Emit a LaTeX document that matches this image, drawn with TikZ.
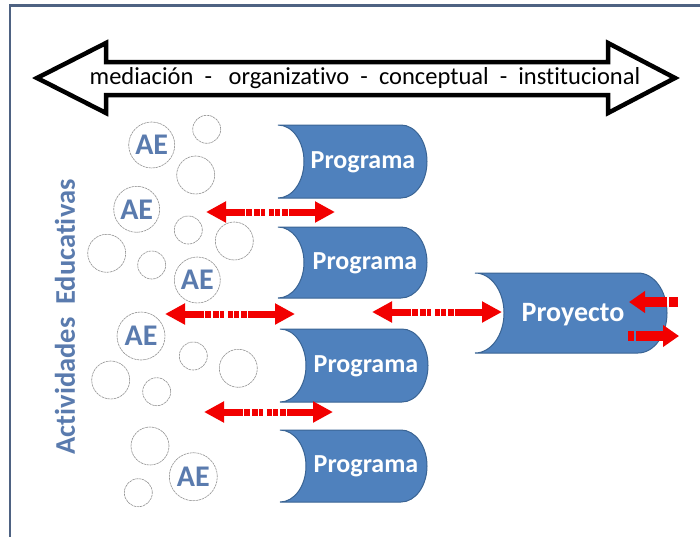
\documentclass[tikz,border=0pt]{standalone}
\usepackage{fontspec}
\setmainfont{Carlito}[Ligatures=NoCommon]
\usetikzlibrary{arrows.meta}

\definecolor{frameblue}{HTML}{4E6282}
\definecolor{boxfill}{HTML}{4F81BD}
\definecolor{boxline}{HTML}{3A6494}
\definecolor{aeblue}{HTML}{5A7BAE}
\definecolor{arrowred}{HTML}{F20000}

% stored-data outline: #1 left x, #2 top y, #3 right x, #4 bottom y, #5 end radius
\newcommand{\storedbox}[5]{%
  \pgfmathsetmacro{\sbmid}{(#2+#4)/2}%
  \pgfmathsetmacro{\sbry}{(#4-#2)/2}%
  \pgfmathsetmacro{\sbrx}{#3-#5}%
  \filldraw[boxshape] (#1,#2) -- (\sbrx,#2)
    arc[start angle=90, end angle=-90, x radius=#5pt, y radius=\sbry pt]
    -- (#1,#4)
    arc[start angle=-90, end angle=90, x radius=#5pt, y radius=\sbry pt]
    -- cycle;}

\tikzset{
  x=1pt, y=-1pt,
  boxshape/.style={fill=boxfill, draw=boxline, line width=1pt},
  bubble/.style={circle, draw=gray!85, line width=0.6pt,
    dash pattern=on 2.5pt off 0.7pt, inner sep=0pt, minimum size=#1},
  aetext/.style={font=\bfseries\fontsize{30}{30}\selectfont, text=aeblue},
  boxlabel/.style={font=\bfseries\fontsize{26}{26}\selectfont, text=white},
  redlink/.style={draw=arrowred, line width=7pt,
    {Triangle[length=20pt,width=20pt]}-{Triangle[length=20pt,width=20pt]},
    dash pattern=on 20pt off 1.5pt on 6pt off 1.5pt on 6pt off 1.5pt on 4pt
      off 3.5pt on 5pt off 1.5pt on 5pt off 1.5pt on 6pt off 1.5pt on 60pt},
  sidelink/.style={draw=arrowred, line width=10pt,
    -{Triangle[length=16pt,width=21pt]}},
}

\begin{document}
\begin{tikzpicture}
\useasboundingbox (0,0) rectangle (700,536);
\fill[white] (0,0) rectangle (700,536);

% frame
\draw[frameblue, line width=2.5pt] (10,545) -- (10,5.5) -- (710,5.5);

% scale double arrow
\draw[black, line width=4.5pt, fill=white]
  (37,78) -- (106,43) -- (106,62) -- (608,62) -- (608,43) -- (675,78)
  -- (608,113) -- (608,95) -- (106,95) -- (106,113) -- cycle;
\node[font=\fontsize{24.5}{24.5}\selectfont] (scale) at (365,78)
  {mediación\ \ -\ \ \ organizativo\ \ -\ \ conceptual\ \ -\ \ institucional};

% side label
\node[font=\bfseries\fontsize{28.5}{28.5}\selectfont, text=aeblue, rotate=90]
  (act) at (65,317) {Actividades\ \ Educativas};

% activity bubbles
\node[bubble=46pt, aetext] (ae1) at (151.7,145) {AE};
\node[bubble=28pt] (b1) at (206.7,129.3) {};
\node[bubble=38pt] (b2) at (195.7,175) {};
\node[bubble=46pt, aetext] (ae2) at (136.7,209.3) {AE};
\node[bubble=28pt] (b3) at (188.3,230) {};
\node[bubble=38pt] (b4) at (234.3,241) {};
\node[bubble=38pt] (b5) at (106.7,253.3) {};
\node[bubble=28pt] (b6) at (151.7,265) {};
\node[bubble=46pt, aetext] (ae3) at (197.3,280) {AE};
\node[bubble=48pt, aetext] (ae4) at (141,336) {AE};
\node[bubble=28pt] (b7) at (193.3,356) {};
\node[bubble=38pt] (b8) at (238.3,368.3) {};
\node[bubble=38pt] (b9) at (110.7,380) {};
\node[bubble=28pt] (b10) at (156.7,391.7) {};
\node[bubble=38pt] (b11) at (150,446) {};
\node[bubble=48pt, aetext] (ae5) at (193.3,476.7) {AE};
\node[bubble=28pt] (b12) at (138.3,492.7) {};

% programmes
\storedbox{278}{125}{427}{198}{26}
\node[boxlabel] (prog1) at (363,162) {Programa};
\storedbox{278}{227}{427}{298}{26}
\node[boxlabel] (prog2) at (365,263) {Programa};
\storedbox{280}{329}{428}{402}{26}
\node[boxlabel] (prog3) at (366,366) {Programa};
\storedbox{280}{430}{427}{502}{26}
\node[boxlabel] (prog4) at (366,466) {Programa};

% project
\storedbox{475}{273}{667}{353}{29}
\node[boxlabel, font=\bfseries\fontsize{28}{28}\selectfont] (proy) at (573,315) {Proyecto};

% red links
\coordinate (l1a) at (206,212);  \coordinate (l1b) at (335,212);
\coordinate (l2a) at (165,314);  \coordinate (l2b) at (295,314);
\coordinate (l3a) at (204,412);  \coordinate (l3b) at (333,412);
\coordinate (l4a) at (372,312);  \coordinate (l4b) at (502,312);
\draw[redlink] (l1a) -- (l1b);
\draw[redlink] (l2a) -- (l2b);
\draw[redlink] (l3a) -- (l3b);
\draw[redlink] (l4a) -- (l4b);

% project in/out arrows
\coordinate (inA) at (678,302);  \coordinate (inB) at (629,302);
\coordinate (outA) at (628,336); \coordinate (outB) at (679,336);
\draw[sidelink, dash pattern=on 9pt off 2pt on 60pt] (inA) -- (inB);
\draw[sidelink, dash pattern=on 6pt off 2pt on 60pt] (outA) -- (outB);
\end{tikzpicture}
\end{document}
